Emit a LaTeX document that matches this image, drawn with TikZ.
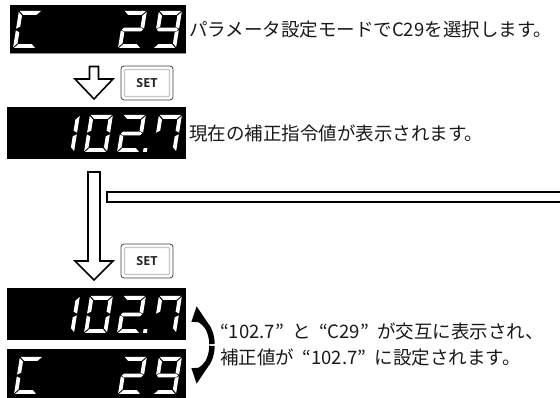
\documentclass[tikz,border=0pt]{standalone}
\usepackage{fontspec}
\usetikzlibrary{arrows.meta,calc}
\newfontfamily\jpfont{Noto Sans CJK JP}
\newfontfamily\btnfont{Open Sans}
\newcommand\oq{\hspace{0.45em}“}
\newcommand\cq{”\hspace{0.45em}}
\def\svsega{\fill[seg] (0.9,37) -- (22.1,37) -- (18.3,33.2) -- (4.7,33.2) -- cycle;}
\def\svsegd{\fill[seg] (0.9,0) -- (22.1,0) -- (18.3,3.8) -- (4.7,3.8) -- cycle;}
\def\svsegg{\fill[seg] (0.9,18.5) -- (2.8,20.4) -- (20.2,20.4) -- (22.1,18.5) -- (20.2,16.6) -- (2.8,16.6) -- cycle;}
\def\svsegf{\fill[seg] (0,36.1) -- (3.8,32.3) -- (3.8,21.3) -- (0,19.4) -- cycle;}
\def\svsege{\fill[seg] (0,0.9) -- (3.8,4.7) -- (3.8,15.7) -- (0,17.6) -- cycle;}
\def\svsegb{\fill[seg] (23,36.1) -- (19.2,32.3) -- (19.2,21.3) -- (23,19.4) -- cycle;}
\def\svsegc{\fill[seg] (23,0.9) -- (19.2,4.7) -- (19.2,15.7) -- (23,17.6) -- cycle;}
\def\svsegp{\fill[seg] (26,0) rectangle (29.8,3.8);}
\newcommand\svdigit[3]{\begin{scope}[shift={(#1,#2)},xslant=0.16]\foreach \s in {#3}{\csname svseg\s\endcsname}\end{scope}}
\tikzset{
  lcd/.style={fill=black,inner sep=0pt,outer sep=0pt,anchor=south west},
  seg/.style={fill=white},
  hollow/.style={draw=black,line width=1.6pt,fill=white,line join=miter},
  setout/.style={draw=black!75,line width=0.8pt,rounded corners=3pt,fill=white,inner sep=0pt,outer sep=0pt,anchor=south west},
  setin/.style={draw=black!22,line width=1.3pt,fill=white,inner sep=0pt,rounded corners=1pt},
  settext/.style={font=\btnfont\bfseries\fontsize{12.5}{14}\selectfont,inner sep=0pt,text=black!85},
  jptext/.style={font=\jpfont\fontsize{18.5}{22}\selectfont,inner sep=0pt,anchor=west,text=black!90},
  cyc/.style={line width=5.5pt,-{Triangle[length=13pt,width=19pt]}},
}
\begin{document}
\begin{tikzpicture}[x=1pt,y=1pt]
\useasboundingbox (0,0) rectangle (560,398);
% displays
\node[lcd,minimum width=176pt,minimum height=48pt] (d1) at (10,345) {};
\draw[black!45,line width=0.8pt] (d1.south west) -- (d1.south east);
\node[lcd,minimum width=179pt,minimum height=52pt] (d2) at (7,239) {};
\node[lcd,minimum width=179pt,minimum height=52pt] (d3) at (7,58) {};
\node[lcd,minimum width=179pt,minimum height=49pt] (d4) at (7,0) {};
% digits
\svdigit{13}{350}{a,f,e,d}
\svdigit{118}{350}{a,b,g,e,d}
\svdigit{153}{350}{a,b,c,d,f,g}
\svdigit{51}{246}{b,c}
\svdigit{84}{246}{a,b,c,d,e,f}
\svdigit{117}{246}{a,b,g,e,d,p}
\svdigit{153}{246}{a,f,b,c}
\svdigit{51}{65}{b,c}
\svdigit{84}{65}{a,b,c,d,e,f}
\svdigit{117}{65}{a,b,g,e,d,p}
\svdigit{153}{65}{a,f,b,c}
\svdigit{14}{4}{a,f,e,d}
\svdigit{118}{4}{a,b,g,e,d}
\svdigit{153}{4}{a,b,c,d,f,g}
% texts
\node[jptext] (t1) at (189,368) {パラメータ設定モードでC29を選択します。};
\node[jptext] (t2) at (189,265) {現在の補正指令値が表示されます。};
\node[jptext] (t3) at (220,67) {“102.7\cq と\oq C29\cq が交互に表示され、};
\node[jptext] (t4) at (220,41) {補正値が\oq 102.7\cq に設定されます。};
% small arrow
\draw[hollow] (89.5,331.5) -- (98.5,331.5) -- (98.5,319) -- (113,319) -- (94,299) -- (75,319) -- (89.5,319) -- cycle;
% SET buttons
\node[setout,minimum width=52pt,minimum height=34pt] (s1) at (121,298) {};
\node[setin,minimum width=45pt,minimum height=27pt] (s1i) at (s1.center) {};
\node[settext] (s1t) at (s1.center) {SET};
\node[setout,minimum width=52pt,minimum height=34pt] (s2) at (121,120) {};
\node[setin,minimum width=45pt,minimum height=27pt] (s2i) at (s2.center) {};
\node[settext] (s2t) at (s2.center) {SET};
% long arrow
\draw[hollow] (88,226) -- (100,226) -- (100,137) -- (113,137) -- (94,118) -- (75,137) -- (88,137) -- cycle;
% horizontal bar
\coordinate (b1) at (561,206);
\coordinate (b2) at (561,196);
\draw[line width=1.8pt,line join=miter] (b1) -- (107,206) -- (107,196) -- (b2);
% cycle arrows
\coordinate (cc) at (197,53);
\draw[cyc] ([shift={(2:15 and 25)}]cc) arc[start angle=2,end angle=112,x radius=15,y radius=25];
\draw[cyc] ([shift={(-2:15 and 25)}]cc) arc[start angle=-2,end angle=-112,x radius=15,y radius=25];
\end{tikzpicture}
\end{document}
